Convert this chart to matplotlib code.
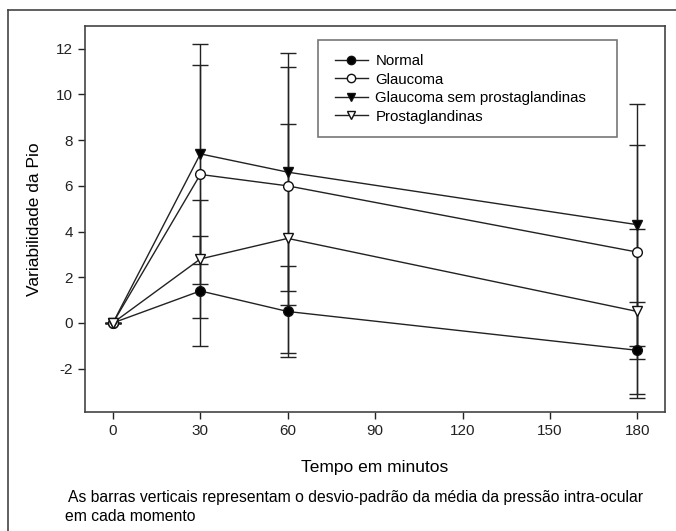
import matplotlib.pyplot as plt
from matplotlib.lines import Line2D
from matplotlib.patches import Rectangle

plt.rcParams['font.family'] = ['Liberation Sans', 'DejaVu Sans']
plt.rcParams['axes.unicode_minus'] = False

tempo = [0, 30, 60, 180]

normal = [0, 1.4, 0.5, -1.2]
normal_dp = [0, 2.4, 2.0, 2.1]

glaucoma = [0, 6.5, 6.0, 3.1]
glaucoma_dp = [0, 4.8, 5.2, 4.7]

glaucoma_sp = [0, 7.4, 6.6, 4.3]
glaucoma_sp_dp = [0, 4.8, 5.2, 5.3]

prost = [0, 2.8, 3.7, 0.5]
prost_dp = [0, 2.6, 5.0, 3.6]

fig = plt.figure(figsize=(6.76, 5.31), dpi=100)
ax = fig.add_axes([0.1257, 0.2241, 0.858, 0.727])

series = [
    ("Normal", normal, normal_dp, "o", "black"),
    ("Glaucoma", glaucoma, glaucoma_dp, "o", "white"),
    ("Glaucoma sem prostaglandinas", glaucoma_sp, glaucoma_sp_dp, "v", "black"),
    ("Prostaglandinas", prost, prost_dp, "v", "white"),
]

for nome, y, dp, m, fc in series:
    ax.errorbar(tempo, y, yerr=dp, color="#222222", lw=1, elinewidth=1,
                capsize=6, capthick=1, marker=m, ms=7, mfc=fc, mec="#111111",
                mew=1, label=nome, zorder=3)

ax.set_xlim(-9.6, 189.5)
ax.set_ylim(-3.9, 13.0)
ax.set_xticks([0, 30, 60, 90, 120, 150, 180])
ax.set_yticks([-2, 0, 2, 4, 6, 8, 10, 12])
ax.tick_params(direction="out", length=5, width=1, labelsize=11, colors="#222222")
for s in ["top", "right", "left", "bottom"]:
    ax.spines[s].set_color("#444444")
    ax.spines[s].set_linewidth(1.2)

ax.set_xlabel("Tempo em minutos", fontsize=12.5, labelpad=16)
ax.set_ylabel("Variabilidade da Pio", fontsize=12.5, labelpad=10)

# caixa da legenda
ax.add_patch(Rectangle((0.402, 0.712), 0.516, 0.252, transform=ax.transAxes,
                       fill=True, facecolor="white", edgecolor="#777777", lw=1.2, zorder=4))
handles = [Line2D([], [], color="#222222", lw=1, marker=m, ms=6, mfc=fc, mec="#111111")
           for _, _, _, m, fc in series]
leg = ax.legend(handles, [s[0] for s in series], loc="upper left",
                bbox_to_anchor=(0.405, 0.966), fontsize=10.8, frameon=False,
                handlelength=2.2, labelspacing=0.3, borderpad=0.5, handletextpad=0.5)
leg.set_zorder(5)

fig.text(0.1006, 0.063, "As barras verticais representam o desvio-padrão da média da pressão intra-ocular",
         fontsize=11.3, ha="left", va="center")
fig.text(0.096, 0.028, "em cada momento", fontsize=11.3, ha="left", va="center")

# moldura externa (só topo e esquerda visíveis)
fig.add_artist(Line2D([0.012, 1.0], [1 - 10 / 531, 1 - 10 / 531], color="#444444", lw=1.2,
                      transform=fig.transFigure))
fig.add_artist(Line2D([0.012, 0.012], [0, 1 - 10 / 531], color="#444444", lw=1.2,
                      transform=fig.transFigure))

fig.savefig("out.png", dpi=100)
